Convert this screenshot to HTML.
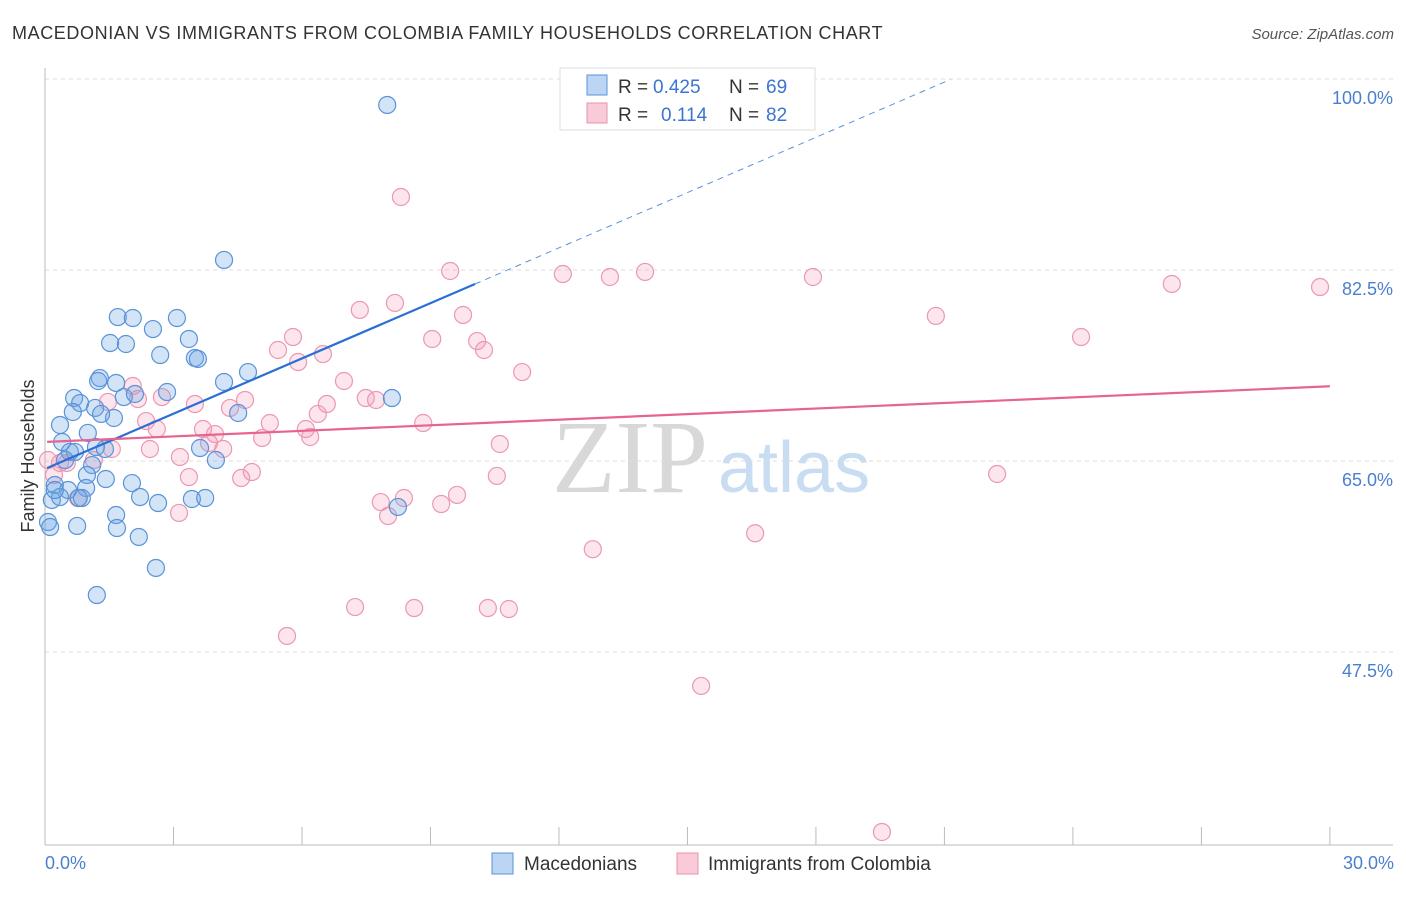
<!DOCTYPE html>
<html><head><meta charset="utf-8"><style>
body{margin:0;background:#fff;font-family:"Liberation Sans",sans-serif;}
</style></head><body>
<svg width="1406" height="892" xmlns="http://www.w3.org/2000/svg" id="chart">
<text x="12" y="39" font-size="18" fill="#333" letter-spacing="0.6">MACEDONIAN VS IMMIGRANTS FROM COLOMBIA FAMILY HOUSEHOLDS CORRELATION CHART</text>
<text x="1394" y="39" font-size="15" fill="#555" font-style="italic" text-anchor="end">Source: ZipAtlas.com</text>
<g>
<text x="552" y="492" font-size="104" font-family="Liberation Serif" fill="#d8d8d8">ZIP</text>
<text x="718" y="492" font-size="72" fill="#c8dcf2">atlas</text>
</g>
<g id="grid"></g>
<g id="axes"></g>
<g id="marks"></g>
<text x="34" y="456" font-size="18" fill="#333" transform="rotate(-90 34 456)" text-anchor="middle">Family Households</text>
<text x="45" y="869" font-size="18" fill="#4a7fd0">0.0%</text>
<text x="1394" y="869" font-size="18" fill="#4a7fd0" text-anchor="end">30.0%</text>
<g>
<rect x="560" y="68" width="255" height="62" fill="#fff" stroke="#ddd"/>
<rect x="587" y="75" width="20" height="20" fill="#bcd5f5" stroke="#5a93d8"/>
<rect x="587" y="103" width="20" height="20" fill="#f9cbd8" stroke="#e890aa"/>
<text y="93" font-size="19" fill="#333"><tspan x="618">R =</tspan><tspan x="653" fill="#3a75d0">0.425</tspan><tspan x="729">N =</tspan><tspan x="766" fill="#3a75d0">69</tspan></text>
<text y="121" font-size="19" fill="#333"><tspan x="618">R =</tspan><tspan x="661" fill="#3a75d0">0.114</tspan><tspan x="729">N =</tspan><tspan x="766" fill="#3a75d0">82</tspan></text>
</g>
<g>
<rect x="492" y="853" width="21" height="21" fill="#bcd5f5" stroke="#5a93d8"/>
<text x="524" y="870" font-size="19" fill="#333">Macedonians</text>
<rect x="677" y="853" width="21" height="21" fill="#f9cbd8" stroke="#e890aa"/>
<text x="708" y="870" font-size="19" fill="#333">Immigrants from Colombia</text>
</g>
</svg>
<script>
const yTicks=[100,82.5,65,47.5];
const yTickLabels=["100.0%","82.5%","65.0%","47.5%"];
const xTicks=[3,6,9,12,15,18,21,24,27,30];
const blueX=[7.99,4.18,1.70,2.05,3.08,2.52,3.36,1.52,1.89,2.69,3.50,3.57,4.74,1.28,1.24,1.66,4.18,2.85,0.68,0.82,1.84,2.10,8.10,1.17,0.65,1.61,1.31,4.51,0.35,1.00,0.40,1.19,1.40,3.62,0.58,0.70,0.47,3.99,1.10,0.98,1.42,2.03,0.23,0.54,0.96,0.79,2.22,2.64,3.43,3.74,0.16,0.35,8.24,1.66,0.07,0.12,0.75,1.68,2.19,2.59,1.21,0.23,0.86];
const blueY=[99.27,85.07,79.84,79.75,79.75,78.74,77.83,77.46,77.37,76.36,76.09,76.00,74.80,74.25,73.98,73.80,73.89,72.97,72.42,71.96,72.51,72.79,72.42,71.51,71.14,70.59,70.96,71.05,69.95,69.22,68.39,67.93,67.75,67.84,67.48,67.48,66.74,66.74,66.28,65.37,65.00,64.63,64.45,63.99,64.18,63.26,63.35,62.80,63.17,63.26,63.08,63.35,62.44,61.70,61.06,60.60,60.70,60.51,59.69,56.85,54.37,63.99,63.26];
const pinkX=[8.31,9.46,12.09,13.19,14.01,17.93,26.31,29.77,8.17,7.35,9.76,20.80,5.79,9.04,10.09,24.19,5.44,6.49,10.25,5.91,11.14,6.98,2.05,2.73,2.17,1.47,4.32,3.50,4.67,7.49,7.73,6.37,6.58,5.25,2.36,8.83,2.61,3.69,3.97,6.09,6.19,5.07,3.83,1.56,2.45,10.62,4.16,3.15,1.14,0.51,0.07,0.35,3.36,4.83,4.58,10.55,22.23,0.21,7.84,8.38,9.62,9.25,8.01,3.13,16.58,12.79,7.24,8.62,10.34,10.83,5.65,15.32,19.54,0.77];
const pinkY=[90.84,84.06,83.78,83.51,83.97,83.51,82.87,82.59,81.13,80.49,80.03,79.94,78.01,77.83,77.64,78.01,76.82,76.45,76.82,75.72,74.80,73.98,73.52,72.51,72.33,72.06,71.51,71.87,72.24,72.42,72.24,70.96,71.87,70.13,70.31,70.13,69.58,69.58,69.12,69.58,68.85,68.76,68.30,67.75,67.75,68.21,67.75,67.02,66.74,66.47,66.74,66.47,65.18,65.64,65.09,65.28,65.46,65.37,62.89,63.26,63.54,62.71,61.61,61.89,60.03,58.57,53.27,53.18,53.18,53.09,50.62,46.04,32.66,63.26];
const blueTrend=[65.92,1.688];
const pinkTrend=[68.4,0.17];
const NS="http://www.w3.org/2000/svg";
const xs=v=>45+v*42.83;
const ys=v=>97+(100-v)/0.09162;
function mk(tag,attrs,parent){const e=document.createElementNS(NS,tag);for(const k in attrs)e.setAttribute(k,attrs[k]);document.getElementById(parent).appendChild(e);return e;}
yTicks.forEach((t,i)=>{
 const g=mk('line',{x1:45,x2:1393,y1:ys(t)-18,y2:ys(t)-18,stroke:'#ddd','stroke-dasharray':'4,4'},'grid');
 
 
 const tx=mk('text',{x:1393,y:ys(t)+7,'font-size':18,fill:'#4a7fd0','text-anchor':'end'},'grid');
 tx.textContent=yTickLabels[i];
 
 
});
const ax=mk('line',{x1:45,x2:45,y1:68,y2:845,stroke:'#bbb'},'axes');


const bx=mk('line',{x1:45,x2:1393,y1:845,y2:845,stroke:'#bbb'},'axes');


xTicks.forEach(t=>{
 const l=mk('line',{x1:xs(t),x2:xs(t),y1:827,y2:845,stroke:'#bbb'},'axes');
 
 
});
pinkX.forEach((x,i)=>{
 const c=mk('circle',{cx:xs(x),cy:ys(pinkY[i]),r:8.5,fill:'rgba(244,150,180,0.25)',stroke:'#eb98b2','stroke-width':1.2},'marks');
 
 
});
blueX.forEach((x,i)=>{
 const c=mk('circle',{cx:xs(x),cy:ys(blueY[i]),r:8.5,fill:'rgba(110,165,230,0.3)',stroke:'#5a93d8','stroke-width':1.2},'marks');
 
 
});
const yTop=101.6, xTop=(yTop-blueTrend[0])/blueTrend[1];
const bl=mk('line',{x1:xs(0.05),y1:ys(blueTrend[0]+blueTrend[1]*0.05),x2:xs(10.04),y2:ys(blueTrend[0]+blueTrend[1]*10.04),stroke:'#2a6fd6','stroke-width':2.2},'marks');


const bd=mk('line',{x1:xs(10.04),y1:ys(blueTrend[0]+blueTrend[1]*10.04),x2:xs(xTop),y2:ys(yTop),stroke:'#5a93d8','stroke-width':1,'stroke-dasharray':'6,5'},'marks');


const pl=mk('line',{x1:xs(0.05),y1:ys(pinkTrend[0]),x2:xs(30),y2:ys(pinkTrend[0]+pinkTrend[1]*30),stroke:'#e6648f','stroke-width':2.2},'marks');


</script>
</body></html>
